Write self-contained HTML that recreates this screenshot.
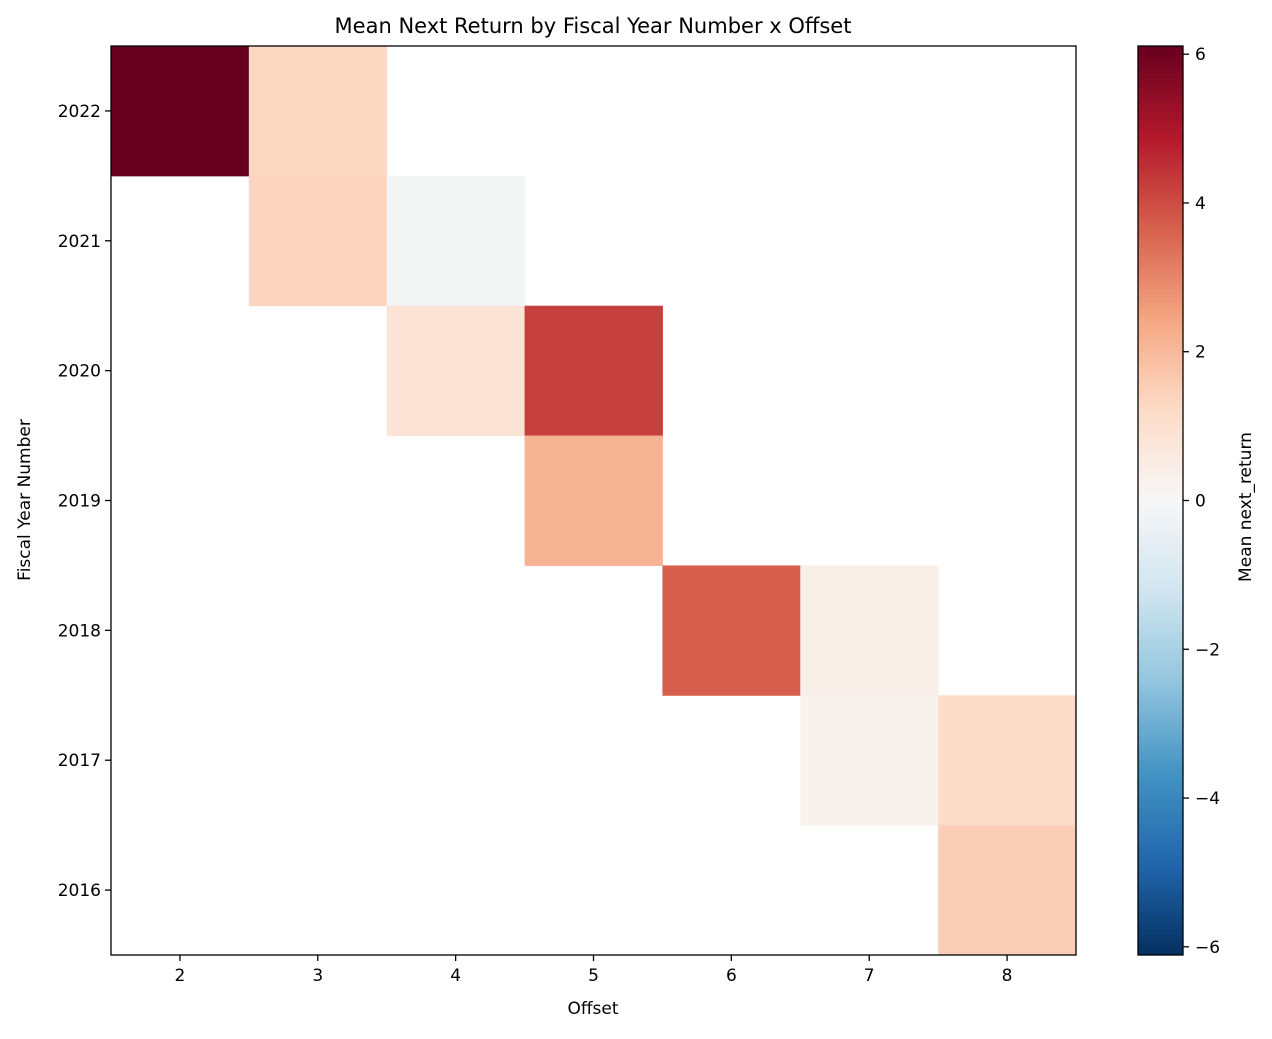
<!DOCTYPE html>
<html><head><meta charset="utf-8"><style>
body{margin:0;background:#fff;font-family:"Liberation Sans","DejaVu Sans",sans-serif;}
svg text{font-family:"DejaVu Sans","Liberation Sans",sans-serif;fill:#000;}
</style></head><body>
<svg id="chart" width="1272" height="1034" xmlns="http://www.w3.org/2000/svg">
<defs><linearGradient id="cg" x1="0" y1="1" x2="0" y2="0"></linearGradient></defs>
<text x="593" y="33" font-size="21" text-anchor="middle">Mean Next Return by Fiscal Year Number x Offset</text>
<g id="cells"></g>
<rect x="111" y="46" width="965" height="909" fill="none" stroke="#000" stroke-width="1.3"/>
<g id="axes"></g>
<text x="593" y="1014" font-size="17" text-anchor="middle">Offset</text>
<text transform="translate(30,500) rotate(-90)" font-size="17" text-anchor="middle">Fiscal Year Number</text>
<rect x="1138" y="46" width="45" height="909" fill="url(#cg)" stroke="#000" stroke-width="1.3"/>
<g id="cbticks"></g>
<text transform="translate(1251,507) rotate(-90)" font-size="17" text-anchor="middle">Mean next_return</text>
</svg>
<script>
const offsets=[2,3,4,5,6,7,8];
const years=[2022,2021,2020,2019,2018,2017,2016];
const cellYears=[2022,2022,2021,2021,2020,2020,2019,2018,2018,2017,2017,2016];
const cellOffsets=[2,3,3,4,4,5,5,6,7,7,8,8];
const cellValues=[6.1,1.3,1.35,-0.1,0.85,4.2,2.1,3.7,0.35,0.2,1.2,1.5];
const cbTicks=[6,4,2,0,-2,-4,-6];
const vmax=6.11;
const NS="http://www.w3.org/2000/svg";
const X0=111,X1=1076,Y0=46,Y1=955;
const cw=(X1-X0)/offsets.length, ch=(Y1-Y0)/years.length;
function xPos(o){return X0+offsets.indexOf(o)*cw;}
function yPos(y){return Y0+years.indexOf(y)*ch;}
function cbY(v){return Y0+(vmax-v)/(2*vmax)*(Y1-Y0);}
const stops=[[103,0,31],[178,24,43],[214,96,77],[244,165,130],[253,219,199],[247,247,247],[209,229,240],[146,197,222],[67,147,195],[33,102,172],[5,48,97]].reverse();
function cmap(v){let t=(v+vmax)/(2*vmax);t=Math.max(0,Math.min(1,t))*10;let i=Math.min(9,Math.floor(t)),f=t-i;
const a=stops[i],b=stops[i+1];return `rgb(${a.map((c,k)=>Math.round(c+(b[k]-c)*f)).join(',')})`;}
const g=document.getElementById('cg');
stops.forEach((s,i)=>{const st=document.createElementNS(NS,'stop');st.setAttribute('offset',i/10);st.setAttribute('stop-color',`rgb(${s.join(',')})`);g.appendChild(st);});
const cells=document.getElementById('cells');
cellValues.forEach((v,i)=>{const r=document.createElementNS(NS,'rect');


r.setAttribute('x',xPos(cellOffsets[i]));r.setAttribute('y',yPos(cellYears[i]));
r.setAttribute('width',cw+0.5);r.setAttribute('height',ch+0.5);r.setAttribute('fill',cmap(v));cells.appendChild(r);});
const ax=document.getElementById('axes');
function line(p,x1,y1,x2,y2){const l=document.createElementNS(NS,'line');l.setAttribute('x1',x1);l.setAttribute('y1',y1);l.setAttribute('x2',x2);l.setAttribute('y2',y2);l.setAttribute('stroke','#000');l.setAttribute('stroke-width','1.3');p.appendChild(l);return l;}
function text(p,x,y,s,anchor){const t=document.createElementNS(NS,'text');t.setAttribute('x',x);t.setAttribute('y',y);t.setAttribute('font-size','17');t.setAttribute('text-anchor',anchor);t.textContent=s;p.appendChild(t);return t;}
offsets.forEach(o=>{const x=xPos(o)+cw/2;line(ax,x,Y1,x,Y1+6);
const t=text(ax,x,Y1+26,o,'middle');

});
years.forEach(y=>{const yy=yPos(y)+ch/2;line(ax,X0-6,yy,X0,yy);
const t=text(ax,X0-10,yy+6,y,'end');

});
const cb=document.getElementById('cbticks');
cbTicks.forEach(v=>{const y=cbY(v);line(cb,1183,y,1189,y);
const t=text(cb,1195,y+6,v<0?'\u2212'+(-v):String(v),'start');

});
</script>
</body></html>
